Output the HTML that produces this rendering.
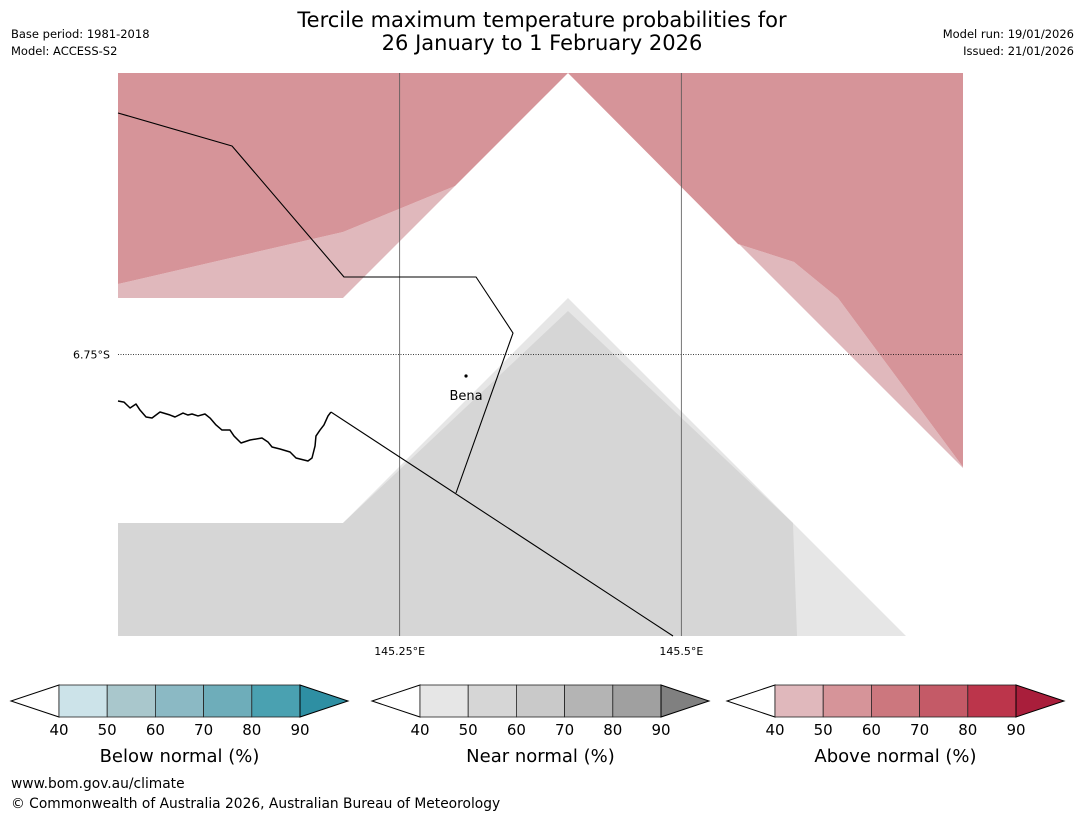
<!DOCTYPE html>
<html><head><meta charset="utf-8">
<style>
html,body{margin:0;padding:0;background:#fff;}
svg{display:block;font-family:"DejaVu Sans","Liberation Sans",sans-serif;}
</style></head>
<body>
<svg id="chart" width="1085" height="816" viewBox="0 0 1085 816" xmlns="http://www.w3.org/2000/svg">
<rect width="1085" height="816" fill="#fff"/>
<text x="542" y="27" text-anchor="middle" font-size="21">Tercile maximum temperature probabilities for</text>
<text x="542" y="50" text-anchor="middle" font-size="21">26 January to 1 February 2026</text>
<text x="11" y="38" font-size="11.5">Base period: 1981-2018</text>
<text x="11" y="55" font-size="11.5">Model: ACCESS-S2</text>
<text x="1074" y="38" font-size="11.5" text-anchor="end">Model run: 19/01/2026</text>
<text x="1074" y="55" font-size="11.5" text-anchor="end">Issued: 21/01/2026</text>
<g id="map"></g>
<g id="bars"></g>
<text x="11" y="788" font-size="13.8">www.bom.gov.au/climate</text>
<text x="11" y="808" font-size="13.8">© Commonwealth of Australia 2026, Australian Bureau of Meteorology</text>
</svg>
<script>
// ---- data ----
const lonTicks = [145.25, 145.5];
const lonLabels = ["145.25°E", "145.5°E"];
const latTicks = [-6.75];
const latLabels = ["6.75°S"];
const barTicks = [40, 50, 60, 70, 80, 90];
const belowColors = ["#cce3e9","#a9c7cc","#8bb9c4","#6eadba","#4aa1b1","#2e8fa3"];
const nearColors = ["#e6e6e6","#d6d6d6","#c9c9c9","#b4b4b4","#a0a0a0","#808080"];
const aboveColors = ["#e0b8bc","#d69499","#cc777e","#c45a67","#bc354b","#a91e3b"];
const barTitles = ["Below normal (%)","Near normal (%)","Above normal (%)"];
const regionCats = ["near","near","above","above","above","above"];
const regionLevels = [40,50,40,50,40,50];
const regionPolys = [
 [[145.0,-6.9296],[145.1997,-6.9296],[145.3994,-6.6898],[145.6994,-7.05],[145.0,-7.05]],
 [[145.0,-6.9296],[145.1997,-6.9296],[145.3994,-6.7036],[145.5991,-6.9296],[145.6027,-7.05],[145.0,-7.05]],
 [[145.0,-6.6749],[145.1997,-6.6194],[145.2991,-6.5704],[145.1997,-6.6898],[145.0,-6.6898]],
 [[145.0,-6.45],[145.3994,-6.45],[145.2991,-6.5704],[145.1997,-6.6194],[145.0,-6.6749]],
 [[145.5503,-6.6322],[145.6,-6.6514],[145.639,-6.6898],[145.75,-6.8699],[145.75,-6.871],[145.5503,-6.6312]],
 [[145.3994,-6.45],[145.75,-6.45],[145.75,-6.8699],[145.639,-6.6898],[145.6,-6.6514],[145.5503,-6.6322]]
];
const boundary1 = [[145.0,-6.4926],[145.1012,-6.5278],[145.2006,-6.6674],[145.3178,-6.6674],[145.3506,-6.7271],[145.3,-6.8976]];
const boundary2 = [[145.189,-6.8113],[145.4926,-7.05]];
const coast = [[145.0,-6.7996],[145.0053,-6.8007],[145.0107,-6.807],[145.016,-6.8028],[145.0195,-6.8092],[145.0249,-6.8166],[145.0302,-6.8177],[145.0373,-6.8113],[145.0462,-6.8145],[145.0506,-6.8166],[145.0577,-6.8124],[145.0621,-6.8145],[145.0657,-6.8134],[145.071,-6.8155],[145.0772,-6.8134],[145.0817,-6.8177],[145.087,-6.8251],[145.0923,-6.8305],[145.0994,-6.8305],[145.103,-6.8369],[145.1092,-6.8443],[145.1172,-6.8411],[145.1278,-6.839],[145.1331,-6.8432],[145.1367,-6.8486],[145.1438,-6.8507],[145.1527,-6.8539],[145.158,-6.8603],[145.1615,-6.8614],[145.1686,-6.8635],[145.1722,-6.8603],[145.1749,-6.8475],[145.1757,-6.8369],[145.1793,-6.8305],[145.1828,-6.8251],[145.1864,-6.8155],[145.189,-6.8113]];
const towns = ["Bena"];
const townLon = [145.3089];
const townLat = [-6.7729];

// ---- axes ----
const X0=118,X1=963,Y0=73,Y1=636, LON0=145.0,LON1=145.75,LAT0=-6.45,LAT1=-7.05;
const xs = lon => X0+(lon-LON0)/(LON1-LON0)*(X1-X0);
const ys = lat => Y0+(lat-LAT0)/(LAT1-LAT0)*(Y1-Y0);
const NS="http://www.w3.org/2000/svg";
function mk(tag, attrs, parent){const e=document.createElementNS(NS,tag);for(const k in attrs)e.setAttribute(k,attrs[k]);parent.appendChild(e);return e;}
const map=document.getElementById('map');
const colorOf=(cat,lvl)=>{const arr=cat==="near"?nearColors:cat==="above"?aboveColors:belowColors;return arr[Math.max(0,Math.floor((lvl-40)/10))];};
regionPolys.forEach((poly,i)=>{
 const p=mk('polygon',{points:poly.map(v=>xs(v[0])+','+ys(v[1])).join(' '),fill:colorOf(regionCats[i],regionLevels[i])},map);
 
 
});
function line(pts,name,extra){
 const l=mk('polyline',Object.assign({points:pts.map(v=>xs(v[0])+','+ys(v[1])).join(' '),fill:'none',stroke:'#000','stroke-width':1.1,'stroke-linejoin':'round'},extra||{}),map);
 
 
}
lonTicks.forEach((lon,i)=>{
 const g=mk('line',{x1:xs(lon),x2:xs(lon),y1:Y0,y2:Y1,stroke:'#555','stroke-width':0.8},map);
 
 
 const t=mk('text',{x:xs(lon),y:Y1+19,'text-anchor':'middle','font-size':11},map);
 t.textContent=lonLabels[i];
 
 
});
latTicks.forEach((lat,i)=>{
 const g=mk('line',{x1:X0,x2:X1,y1:ys(lat),y2:ys(lat),stroke:'#000','stroke-width':0.8,'stroke-dasharray':'1,1.5'},map);
 
 
 const t=mk('text',{x:X0-8,y:ys(lat)+4,'text-anchor':'end','font-size':11},map);
 t.textContent=latLabels[i];
 
 
});
line(boundary1,'province-boundary-north');
line(boundary2,'province-boundary-south');
line(coast,'river-line',{'stroke-width':1.5});
towns.forEach((n,i)=>{
 const c=mk('circle',{cx:xs(townLon[i]),cy:ys(townLat[i]),r:1.6,fill:'#000'},map);
 
 
 const t=mk('text',{x:xs(townLon[i]),y:ys(townLat[i])+24,'text-anchor':'middle','font-size':13},map);
 t.textContent=n;
 
 
});

// ---- colorbars ----
const bars=document.getElementById('bars');
const barStarts=[59,420,775];
const sets=[belowColors,nearColors,aboveColors];
const BY0=685,BY1=717,TW=48;
sets.forEach((cols,b)=>{
 const bx=barStarts[b], seg=(241)/(barTicks.length-1);
 const bx1=bx+seg*(barTicks.length-1);
 const lt=mk('polygon',{points:`${bx},${BY0} ${bx-TW},${(BY0+BY1)/2} ${bx},${BY1}`,fill:'#fff',stroke:'#000','stroke-width':1},bars);
 
 
 for(let k=0;k<barTicks.length-1;k++){
  const r=mk('rect',{x:bx+k*seg,y:BY0,width:seg,height:BY1-BY0,fill:cols[k],stroke:'#222','stroke-width':0.8},bars);
  
  
 }
 const rt=mk('polygon',{points:`${bx1},${BY0} ${bx1+TW},${(BY0+BY1)/2} ${bx1},${BY1}`,fill:cols[cols.length-1],stroke:'#000','stroke-width':1},bars);
 
 
 barTicks.forEach((v,k)=>{
  const t=mk('text',{x:bx+k*seg,y:735,'text-anchor':'middle','font-size':15},bars);
  t.textContent=v;
  
  
 });
 const tt=mk('text',{x:(bx+bx1)/2,y:762,'text-anchor':'middle','font-size':18},bars);
 tt.textContent=barTitles[b];
 
 
});
</script>
</body></html>
